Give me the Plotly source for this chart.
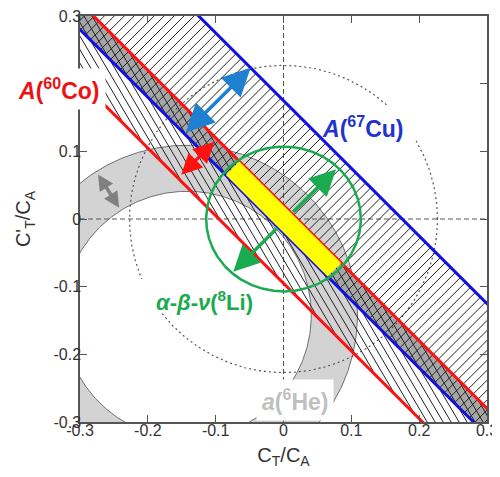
import numpy as np
import plotly.graph_objects as go

# ---------------- data ----------------
x_range = [-0.3, 0.3]
y_range = [-0.3, 0.3]
tick_vals = [-0.3, -0.2, -0.1, 0.0, 0.1, 0.2, 0.3]
x_tick_text = ["-0.3", "-0.2", "-0.1", "0", "0.1", "0.2", "0.3"]
# the "0.2" label on the y axis is hidden behind the A(60Co) label in the reference
y_tick_text = ["-0.3", "-0.2", "-0.1", "0", "0.1", "", "0.3"]

# bands expressed in u = C_T/C_A + C'_T/C_A
co60_band = [-0.095, 0.02]      # A(60Co)
cu67_band = [-0.02, 0.175]      # A(67Cu)
# a(6He) annulus (centre on the diagonal)
he6_center = [-0.142, -0.142]
he6_radii = [0.183, 0.251]
# alpha-beta-nu(8Li) region
li8_radii = [0.114, 0.107]
# combined allowed region: u range and v = x - y range
combined_u = [-0.02, 0.02]
combined_v = [-0.15, 0.15]
# reference dotted circle
ref_radius = 0.227
ref_gaps_deg = [[31, 48], [203, 218]]

# arrows (positions in u/v or polar coordinates)
cu67_arrow_v = -0.272
co60_arrow_v = -0.216
co60_arrow_u = [-0.09, 0.012]
he6_arrow_angle_deg = 122.3
he6_arrow_r = [0.185, 0.246]
li8_arrow_v = 0.004
li8_arrow_u = [0.152, 0.151]


def uv_to_xy(u, v):
    return (u + v) / 2.0, (u - v) / 2.0


def hatch(band, slope, step, brange):
    xs, ys = [], []
    k = 1.0 + slope
    for b in np.arange(brange[0], brange[1], step):
        x1 = (band[0] - b) / k
        x2 = (band[1] - b) / k
        xa, xb = sorted([x1, x2])
        xs += [xa, xb, None]
        ys += [slope * xa + b, slope * xb + b, None]
    return xs, ys


fig = go.Figure()
ext = 0.7

# a(6He) annulus fill
th = np.linspace(0, 2 * np.pi, 721)
ox = he6_center[0] + he6_radii[1] * np.cos(th)
oy = he6_center[1] + he6_radii[1] * np.sin(th)
ix = he6_center[0] + he6_radii[0] * np.cos(th)
iy = he6_center[1] + he6_radii[0] * np.sin(th)
fig.add_trace(go.Scatter(x=np.concatenate([ox, ix[::-1]]), y=np.concatenate([oy, iy[::-1]]),
                         fill="toself", fillcolor="#d3d3d3", mode="lines",
                         line=dict(width=0), hoverinfo="skip"))
for cx_, cy_ in [(ox, oy), (ix, iy)]:
    fig.add_trace(go.Scatter(x=cx_, y=cy_, mode="lines", line=dict(color="#6e6e6e", width=1),
                             hoverinfo="skip"))

# overlap of the two A bands (dark grey)
ov = [max(co60_band[0], cu67_band[0]), min(co60_band[1], cu67_band[1])]
fig.add_trace(go.Scatter(x=[-ext, ext, ext, -ext], y=[ov[0] + ext, ov[0] - ext, ov[1] - ext, ov[1] + ext],
                         fill="toself", fillcolor="#a6a6a6", mode="lines", line=dict(width=0),
                         hoverinfo="skip"))

# dashed zero lines
fig.add_trace(go.Scatter(x=[0, 0], y=y_range, mode="lines",
                         line=dict(color="#555555", width=1, dash="5px,3px"), hoverinfo="skip"))
fig.add_trace(go.Scatter(x=x_range, y=[0, 0], mode="lines",
                         line=dict(color="#555555", width=1, dash="5px,3px"), hoverinfo="skip"))

# dotted reference circle with gaps behind labels
ang = np.arange(0, 361, 0.5)
rx = ref_radius * np.cos(np.radians(ang))
ry = ref_radius * np.sin(np.radians(ang))
mask = np.zeros_like(ang, dtype=bool)
for g in ref_gaps_deg:
    mask |= (ang > g[0]) & (ang < g[1])
rx = np.where(mask, np.nan, rx)
ry = np.where(mask, np.nan, ry)
fig.add_trace(go.Scatter(x=rx, y=ry, mode="lines",
                         line=dict(color="#555555", width=1.2, dash="2px,3px"), hoverinfo="skip"))

# hatching
hx, hy = hatch(cu67_band, 1.0, 0.0147, [-0.7, 0.7])
fig.add_trace(go.Scatter(x=hx, y=hy, mode="lines", line=dict(color="#222222", width=1),
                         hoverinfo="skip"))
hx, hy = hatch(co60_band, -1.7, 0.02, [-0.9, 0.9])
fig.add_trace(go.Scatter(x=hx, y=hy, mode="lines", line=dict(color="#222222", width=1),
                         hoverinfo="skip"))

# band edge lines
for u in co60_band:
    fig.add_trace(go.Scatter(x=[-ext, ext], y=[u + ext, u - ext], mode="lines",
                             line=dict(color="#ff1111", width=3), hoverinfo="skip"))
for u in cu67_band:
    fig.add_trace(go.Scatter(x=[-ext, ext], y=[u + ext, u - ext], mode="lines",
                             line=dict(color="#1111dd", width=3), hoverinfo="skip"))

# 8Li circle
fig.add_trace(go.Scatter(x=li8_radii[0] * np.cos(th), y=li8_radii[1] * np.sin(th), mode="lines",
                         line=dict(color="#1aaa4f", width=2.5), hoverinfo="skip"))

# combined region (yellow)
corners = [(combined_u[0], combined_v[0]), (combined_u[1], combined_v[0]),
           (combined_u[1], combined_v[1]), (combined_u[0], combined_v[1])]
yx = [uv_to_xy(u, v)[0] for u, v in corners]
yy = [uv_to_xy(u, v)[1] for u, v in corners]
fig.add_trace(go.Scatter(x=yx, y=yy, fill="toself", fillcolor="#ffff00", mode="lines",
                         line=dict(width=0), hoverinfo="skip"))

annotations = []


def arrow(p_head, p_tail, color, width, size, side="end+start"):
    annotations.append(dict(x=p_head[0], y=p_head[1], ax=p_tail[0], ay=p_tail[1],
                            xref="x", yref="y", axref="x", ayref="y", text="",
                            showarrow=True, arrowhead=2, startarrowhead=2,
                            arrowsize=size, startarrowsize=size, arrowwidth=width,
                            arrowcolor=color, arrowside=side))


# blue arrow across the 67Cu band
arrow(uv_to_xy(cu67_band[1], cu67_arrow_v), uv_to_xy(cu67_band[0], cu67_arrow_v), "#1f7fd0", 3.5, 1.6)
# red arrow across the 60Co band
arrow(uv_to_xy(co60_arrow_u[1], co60_arrow_v), uv_to_xy(co60_arrow_u[0], co60_arrow_v), "#ff1111", 3.2, 1.3)
# grey arrow across the annulus
a = np.radians(he6_arrow_angle_deg)
p_out = (he6_center[0] + he6_arrow_r[1] * np.cos(a), he6_center[1] + he6_arrow_r[1] * np.sin(a))
p_in = (he6_center[0] + he6_arrow_r[0] * np.cos(a), he6_center[1] + he6_arrow_r[0] * np.sin(a))
arrow(p_out, p_in, "#808080", 3.5, 0.9)
# green arrows from the yellow region outward
arrow(uv_to_xy(li8_arrow_u[1], li8_arrow_v), uv_to_xy(combined_u[1], li8_arrow_v), "#1aaa4f", 3.5, 1.5, "end")
arrow(uv_to_xy(-li8_arrow_u[0], li8_arrow_v), uv_to_xy(combined_u[0], li8_arrow_v), "#1aaa4f", 3.5, 1.5, "end")

label_font = "Liberation Sans, Arial, sans-serif"
annotations += [
    dict(x=-0.0528, y=0.8195, xref="paper", yref="paper", showarrow=False,
         text="<b><i>A</i>(<sup>60</sup>Co)</b>", font=dict(family=label_font, size=23, color="#ee1111"),
         bgcolor="white", borderpad=5, xanchor="center", yanchor="middle"),
    dict(x=0.117, y=0.136, xref="x", yref="y", showarrow=False,
         text="<b><i>A</i>(<sup>67</sup>Cu)</b>", font=dict(family=label_font, size=23, color="#2233cc"),
         xanchor="center", yanchor="middle"),
    dict(x=-0.117, y=-0.121, xref="x", yref="y", showarrow=False,
         text="<b><i>α</i>-<i>β</i>-<i>ν</i>(<sup>8</sup>Li)</b>",
         font=dict(family=label_font, size=22, color="#1aaa4f"),
         xanchor="center", yanchor="middle"),
    dict(x=0.017, y=-0.268, xref="x", yref="y", showarrow=False,
         text="<b><i>a</i>(<sup>6</sup>He)</b>", font=dict(family=label_font, size=23, color="#c0c0c0"),
         bgcolor="white", borderpad=5, xanchor="center", yanchor="middle"),
]

axis_common = dict(tickvals=tick_vals, ticks="inside", automargin=False,
                   ticklen=7, tickwidth=1, tickcolor="#555555", showline=True, linecolor="#555555",
                   linewidth=1.5, mirror="ticks", showgrid=False, zeroline=False,
                   ticklabeloverflow="allow",
                   tickfont=dict(family=label_font, size=16, color="#333333"))

# the page body adds an 8 px margin on every side, so the figure is 16 px smaller
fig.update_layout(
    width=484, height=461, margin=dict(l=72, r=5, t=8, b=47),
    plot_bgcolor="white", paper_bgcolor="white", showlegend=False,
    font=dict(family=label_font, color="#333333"),
    xaxis=dict(axis_common, range=x_range, ticktext=x_tick_text, ticklabelstandoff=-7,
               title=dict(text="C<sub>T</sub>/C<sub>A</sub>", standoff=16,
                          font=dict(size=20, color="#333333"))),
    yaxis=dict(axis_common, range=y_range, ticktext=y_tick_text, ticklabelstandoff=-6,
               title=dict(text="C'<sub>T</sub>/C<sub>A</sub>", standoff=17,
                          font=dict(size=20, color="#333333"))),
    annotations=annotations,
)

fig.write_html("out.html")
